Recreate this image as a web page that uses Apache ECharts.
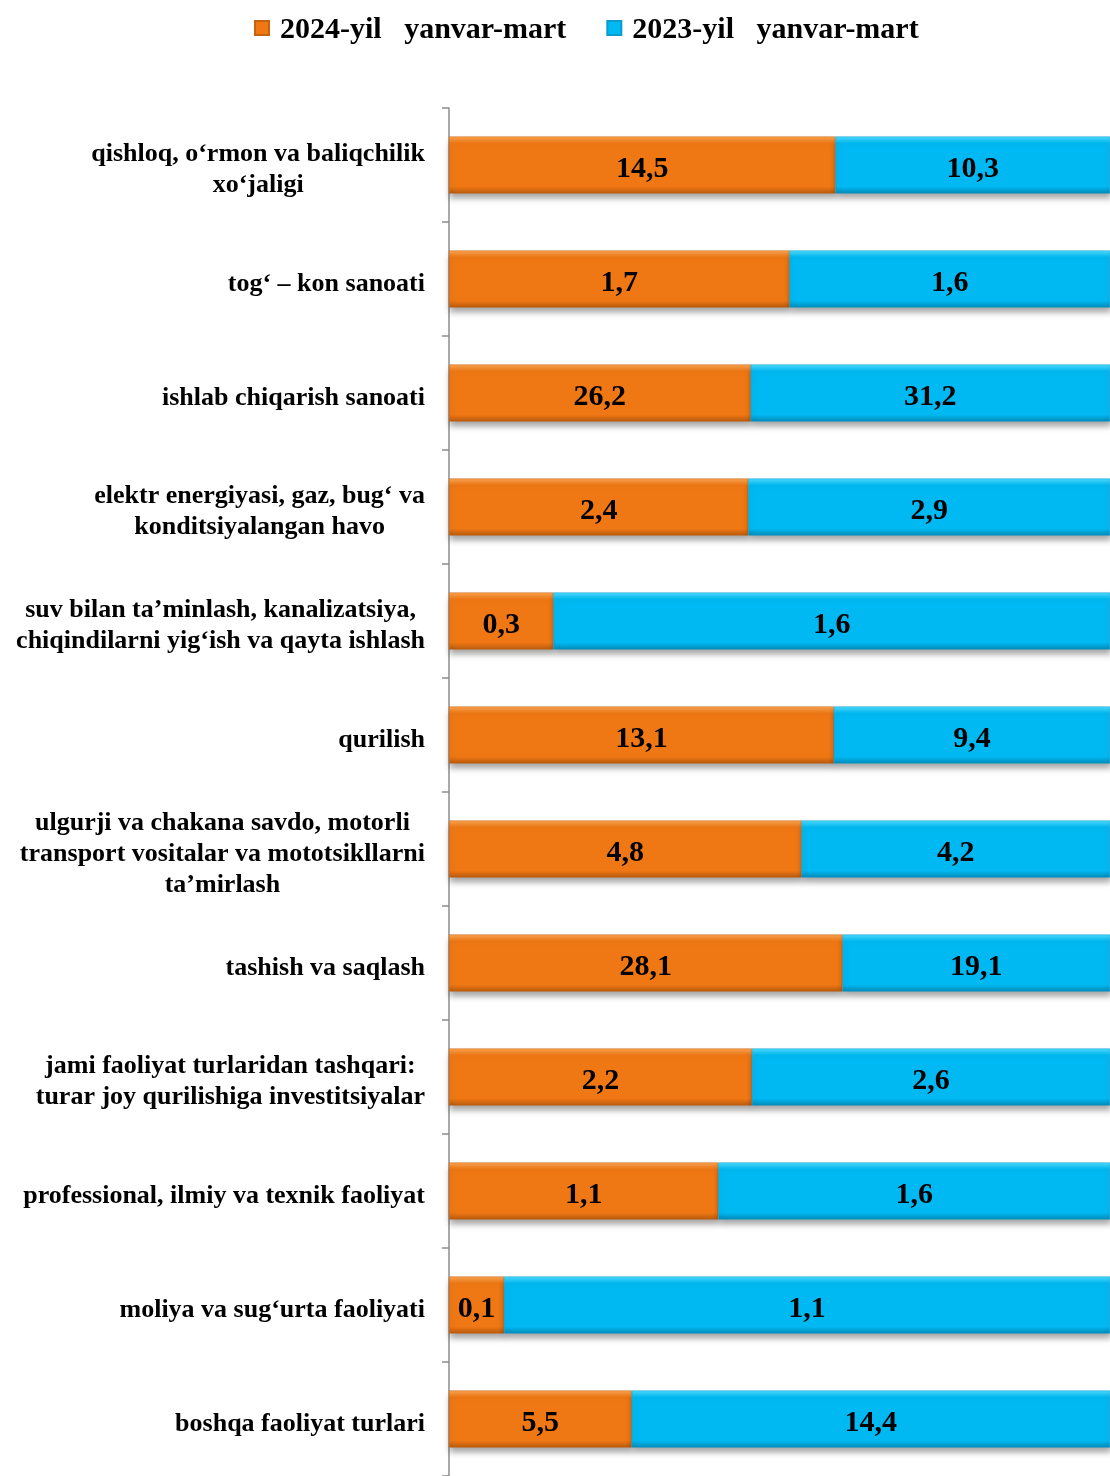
<!DOCTYPE html>
<html>
<head>
<meta charset="utf-8">
<script src="https://cdn.jsdelivr.net/npm/echarts@6/dist/echarts.min.js"></script>
<style>
html,body{margin:0;padding:0;background:#fff;}
#chart{width:1110px;height:1476px;}
</style>
</head>
<body>
<div id="chart"></div>
<script>
var categories = [
  "qishloq, o‘rmon va baliqchilik\nxo‘jaligi",
  "tog‘ – kon sanoati",
  "ishlab chiqarish sanoati",
  "elektr energiyasi, gaz, bug‘ va\nkonditsiyalangan havo",
  "suv bilan ta’minlash, kanalizatsiya,\nchiqindilarni yig‘ish va qayta ishlash",
  "qurilish",
  "ulgurji va chakana savdo, motorli\ntransport vositalar va mototsikllarni\nta’mirlash",
  "tashish va saqlash",
  "jami faoliyat turlaridan tashqari:\nturar joy qurilishiga investitsiyalar",
  "professional, ilmiy va texnik faoliyat",
  "moliya va sug‘urta faoliyati",
  "boshqa faoliyat turlari"
];
var values2024 = [14.5, 1.7, 26.2, 2.4, 0.3, 13.1, 4.8, 28.1, 2.2, 1.1, 0.1, 5.5];
var values2023 = [10.3, 1.6, 31.2, 2.9, 1.6, 9.4, 4.2, 19.1, 2.6, 1.6, 1.1, 14.4];
var seriesNames = ["2024-yil   yanvar-mart", "2023-yil   yanvar-mart"];

var share2024 = values2024.map(function (v, i) { return 100 * v / (v + values2023[i]); });
var share2023 = values2023.map(function (v, i) { return 100 * v / (values2024[i] + v); });

function grad(top, mid, bot) {
  return {
    type: 'linear', x: 0, y: 0, x2: 0, y2: 1,
    colorStops: [
      {offset: 0, color: top},
      {offset: 0.12, color: mid},
      {offset: 0.88, color: mid},
      {offset: 1, color: bot}
    ]
  };
}
function fmt(arr) {
  return function (p) { return String(arr[p.dataIndex]).replace('.', ','); };
}
var serif = '"Liberation Serif", "DejaVu Serif", serif';
var labelStyle = {
  show: true, position: 'inside', offset: [0, 4], color: '#000', fontFamily: serif,
  fontWeight: 'bold', fontSize: 30
};

var chart = echarts.init(document.getElementById('chart'));
chart.setOption({
  animation: false,
  backgroundColor: '#fff',
  legend: {
    top: 10, left: 249,
    itemWidth: 14, itemHeight: 14, itemGap: 40,
    icon: 'rect',
    formatter: function (n) { return '{t|' + n + '}'; },
    textStyle: {
      fontFamily: serif, fontWeight: 'bold', fontSize: 30, color: '#000',
      rich: {t: {fontFamily: serif, fontWeight: 'bold', fontSize: 30, color: '#000', padding: [4, 0, 0, 6]}}
    },
    data: seriesNames
  },
  grid: {left: 449, right: 0, top: 108, height: 1372, containLabel: false},
  xAxis: {type: 'value', min: 0, max: 100, show: false},
  yAxis: {
    type: 'category', inverse: true, data: categories,
    axisLine: {show: true, lineStyle: {color: '#8c8c8c', width: 1.5}},
    axisTick: {show: true, length: 7, lineStyle: {color: '#8c8c8c', width: 1.5}},
    axisLabel: {
      margin: 24, align: 'right', padding: [10, 0, 0, 0],
      formatter: function (v) {
        return v.split('\n').map(function (l) { return '{a|' + l + '}'; }).join('\n');
      },
      rich: {
        a: {fontFamily: serif, fontWeight: 'bold', fontSize: 26, color: '#000', lineHeight: 31, align: 'center'}
      }
    }
  },
  series: [
    {
      name: seriesNames[0], type: 'bar', stack: 'total', barWidth: '50%',
      data: share2024,
      itemStyle: {
        color: grad('#f9a552', '#f07814', '#b85a0e'),
        borderColor: '#c8620f', borderWidth: 0.5,
        shadowBlur: 6, shadowOffsetY: 5, shadowOffsetX: 1, shadowColor: 'rgba(0,0,0,0.35)'
      },
      label: Object.assign({formatter: fmt(values2024)}, labelStyle)
    },
    {
      name: seriesNames[1], type: 'bar', stack: 'total', barWidth: '50%',
      data: share2023,
      itemStyle: {
        color: grad('#4fdcff', '#00b9f2', '#0089b8'),
        borderColor: '#0a9ccc', borderWidth: 0.5,
        shadowBlur: 6, shadowOffsetY: 5, shadowOffsetX: 1, shadowColor: 'rgba(0,0,0,0.35)'
      },
      label: Object.assign({formatter: fmt(values2023)}, labelStyle)
    }
  ]
});
</script>
</body>
</html>
